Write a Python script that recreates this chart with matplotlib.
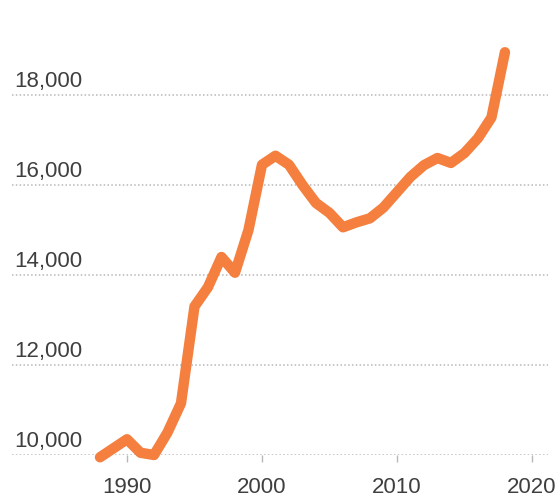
import matplotlib
matplotlib.use("Agg")
import matplotlib.pyplot as plt
import matplotlib.transforms as mtransforms

# yearly values, 1988-2018
years = list(range(1988, 2019))
values = [9950, 10150, 10350, 10050, 10000, 10500, 11150, 13300, 13730, 14400,
          14050, 15000, 16450, 16650, 16450, 16000, 15600, 15380, 15060, 15170,
          15260, 15500, 15840, 16180, 16440, 16600, 16490, 16710, 17040, 17500,
          18950]

yticks = [10000, 12000, 14000, 16000, 18000]
xticks = [1990, 2000, 2010, 2020]

plt.rcParams['font.family'] = ['Liberation Sans', 'DejaVu Sans']

text_color = '#3f3f3f'
grid_color = '#b8b8b8'
line_color = '#f47f3e'

fig = plt.figure(figsize=(5.59, 4.99), dpi=100)
ax = fig.add_axes([12 / 559, 44 / 499, 536 / 559, 415 / 499])

ax.plot(years, values, color=line_color, lw=7.5, solid_capstyle='round',
        solid_joinstyle='round', clip_on=False, zorder=3)

ax.set_xlim(1981.48, 2021.19)
ax.set_ylim(10000, 19222)

for s in ax.spines.values():
    s.set_visible(False)

ax.set_yticks(yticks)
ax.yaxis.grid(True, color=grid_color, linestyle=(0, (1, 1.5)), lw=1.1)
ax.tick_params(axis='y', length=0, labelleft=False)

# y labels sit just above their gridlines, inside the plot
trans = mtransforms.blended_transform_factory(ax.transAxes, ax.transData)
for v in yticks:
    ax.annotate(f"{v:,}", xy=(0.005, v), xycoords=trans, xytext=(0, 2),
                textcoords='offset points', ha='left', va='bottom',
                fontsize=16, color=text_color)

ax.set_xticks(xticks)
ax.set_xticklabels([str(x) for x in xticks])
ax.tick_params(axis='x', length=5, width=1, color=grid_color, pad=11,
               labelsize=16, labelcolor=text_color)

fig.savefig("out.png", dpi=100, facecolor='white')
